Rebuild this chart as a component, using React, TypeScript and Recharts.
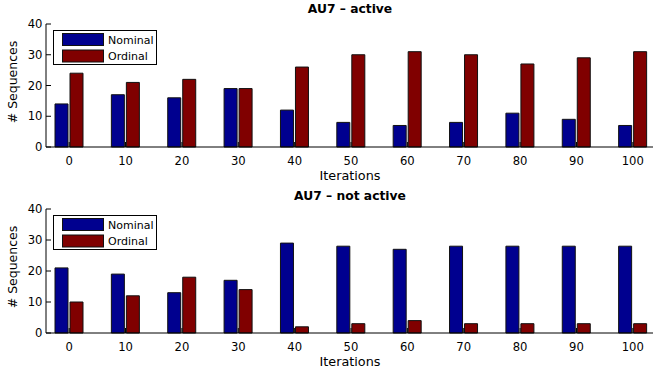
import React from 'react';
import { BarChart, Bar, XAxis, YAxis } from 'recharts';

const iterations = [0, 10, 20, 30, 40, 50, 60, 70, 80, 90, 100];
const activeNominal = [14, 17, 16, 19, 12, 8, 7, 8, 11, 9, 7];
const activeOrdinal = [24, 21, 22, 19, 26, 30, 31, 30, 27, 29, 31];
const notActiveNominal = [21, 19, 13, 17, 29, 28, 27, 28, 28, 28, 28];
const notActiveOrdinal = [10, 12, 18, 14, 2, 3, 4, 3, 3, 3, 3];
const yTicks = [0, 10, 20, 30, 40];
const seriesNames = ['Nominal', 'Ordinal'];
const seriesColors = ['#00008F', '#800000'];
const titles = ['AU7 – active', 'AU7 – not active'];
const xLabel = 'Iterations';
const yLabel = '# Sequences';

const FONT = '"DejaVu Sans", sans-serif';

const XTick = (props: any) => {
  const { x, y, payload } = props;
  return (
    <g>
      <line x1={x} x2={x} y1={y} y2={y - 5} stroke="#000" strokeWidth={1} />
      <text x={x} y={y + 14} textAnchor="middle" dominantBaseline="central" fontSize={11.6} fontFamily={FONT} fill="#000">
        {payload.value}
      </text>
    </g>
  );
};

const YTick = (props: any) => {
  const { x, y, payload } = props;
  return (
    <g>
      <line x1={x} x2={x + 5} y1={y} y2={y} stroke="#000" strokeWidth={1} />
      <text x={x - 3.5} y={y} textAnchor="end" dominantBaseline="central" fontSize={11.6} fontFamily={FONT} fill="#000">
        {payload.value}
      </text>
    </g>
  );
};

type PanelProps = {
  top: number;
  height: number;
  xAxisHeight: number;
  nominal: number[];
  ordinal: number[];
};

const Panel = ({ top, height, xAxisHeight, nominal, ordinal }: PanelProps) => {
  const data = iterations.map((it, i) => ({ it, nominal: nominal[i], ordinal: ordinal[i] }));
  return (
    <div style={{ position: 'absolute', left: 0, top, width: 660, height }}>
      <BarChart width={660} height={height} data={data} margin={{ top: 24, right: 6, left: 0, bottom: 0 }} barGap={2}>
        <XAxis
          dataKey="it"
          xAxisId="bottom"
          height={xAxisHeight}
          padding={{ left: -5, right: -7 }}
          interval={0}
          tickSize={0}
          tickMargin={0}
          tickLine={false}
          axisLine={{ stroke: '#000', strokeWidth: 1 }}
          tick={<XTick />}
        />
        <XAxis
          dataKey="it"
          xAxisId="top"
          orientation="top"
          mirror
          height={0}
          padding={{ left: -5, right: -7 }}
          interval={0}
          tickSize={5}
          tick={false}
          tickLine={{ stroke: '#000', strokeWidth: 1 }}
          axisLine={{ stroke: '#000', strokeWidth: 1 }}
        />
        <YAxis
          yAxisId="left"
          width={46}
          domain={[0, 40]}
          ticks={yTicks}
          interval={0}
          tickSize={0}
          tickMargin={0}
          tickLine={false}
          axisLine={{ stroke: '#000', strokeWidth: 1 }}
          tick={<YTick />}
        />
        <YAxis
          yAxisId="right"
          orientation="right"
          mirror
          width={0}
          domain={[0, 40]}
          ticks={yTicks}
          interval={0}
          tickSize={5}
          tick={false}
          tickLine={{ stroke: '#000', strokeWidth: 1 }}
          axisLine={{ stroke: '#000', strokeWidth: 1 }}
        />
        <Bar dataKey="nominal" name={seriesNames[0]} xAxisId="bottom" yAxisId="left" fill={seriesColors[0]} stroke="#111" strokeWidth={1} barSize={13} isAnimationActive={false} />
        <Bar dataKey="ordinal" name={seriesNames[1]} xAxisId="bottom" yAxisId="left" fill={seriesColors[1]} stroke="#111" strokeWidth={1} barSize={13} isAnimationActive={false} />
      </BarChart>
    </div>
  );
};

const Overlay = ({ plotTop, plotBottom, title, titleY }: { plotTop: number; plotBottom: number; title: string; titleY: number }) => (
  <g>
    <text x={350} y={titleY} textAnchor="middle" fontSize={12.3} fontWeight="bold" fontFamily={FONT} fill="#000">
      {title}
    </text>
    <text x={350} y={plotBottom + 28} textAnchor="middle" dominantBaseline="central" fontSize={12.8} fontFamily={FONT} fill="#000">
      {xLabel}
    </text>
    <text
      x={12.5}
      y={plotTop + 58}
      textAnchor="middle"
      dominantBaseline="central"
      transform={`rotate(-90 12.5 ${plotTop + 58})`}
      fontSize={12.5}
      fontFamily={FONT}
      fill="#000"
    >
      {yLabel}
    </text>
    <rect x={53.5} y={plotTop + 6.5} width={103} height={34} fill="#fff" stroke="#000" strokeWidth={1} />
    {seriesNames.map((name, i) => (
      <g key={name}>
        <rect x={62.5} y={plotTop + 9.5 + i * 16.5} width={41} height={12} fill={seriesColors[i]} stroke="#111" strokeWidth={1} />
        <text x={108} y={plotTop + 19.5 + i * 16.5} fontSize={11} fontFamily={FONT} fill="#000">
          {name}
        </text>
      </g>
    ))}
  </g>
);

export default function App() {
  return (
    <div style={{ position: 'absolute', left: 0, top: 0, width: 653, height: 369, overflow: 'hidden', background: '#fff' }}>
      <Panel top={0} height={185} xAxisHeight={38} nominal={activeNominal} ordinal={activeOrdinal} />
      <Panel top={185} height={184} xAxisHeight={36} nominal={notActiveNominal} ordinal={notActiveOrdinal} />
      <svg width={653} height={369} style={{ position: 'absolute', left: 0, top: 0, pointerEvents: 'none' }}>
        <Overlay plotTop={24} plotBottom={147} title={titles[0]} titleY={12.5} />
        <Overlay plotTop={209} plotBottom={333} title={titles[1]} titleY={200} />
      </svg>
    </div>
  );
}
